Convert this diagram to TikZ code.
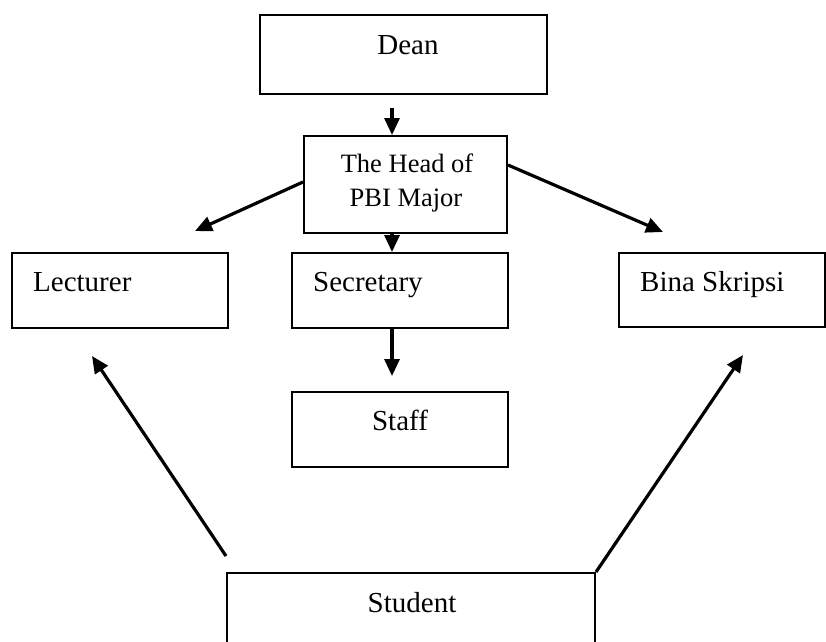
\documentclass[tikz,border=0pt]{standalone}
\usepackage{fontspec}
\setmainfont{Liberation Serif}
\usetikzlibrary{arrows.meta}
\begin{document}
\begin{tikzpicture}[x=1pt,y=-1pt,
  box/.style={draw=black,line width=2pt,rectangle,inner sep=0pt,fill=none},
  lbl/.style={inner sep=0pt,font=\fontsize{29}{34}\selectfont},
  hlbl/.style={inner sep=0pt,font=\fontsize{26.5}{31}\selectfont},
  arr/.style={draw=black,line width=3.2pt,-{Triangle[length=17pt,width=15pt]}}]
\useasboundingbox (0,0) rectangle (826,641);
\clip (0,0) rectangle (826,641);
% boxes
\node[box,minimum width=287pt,minimum height=79pt] (dean) at (403.5,54.5) {};
\node[box,minimum width=203pt,minimum height=97pt] (head) at (405.5,184.5) {};
\node[box,minimum width=216pt,minimum height=75pt] (lect) at (120,290.5) {};
\node[box,minimum width=216pt,minimum height=75pt] (sec) at (400,290.5) {};
\node[box,minimum width=206pt,minimum height=74pt] (bina) at (722,290) {};
\node[box,minimum width=216pt,minimum height=75pt] (staff) at (400,429.5) {};
\node[box,minimum width=368pt,minimum height=127pt] (stud) at (411,636.5) {};
% labels
\node[lbl,anchor=base] (tdean) at (408,54) {Dean};
\node[hlbl,anchor=base] (thead1) at (407,172) {The Head of};
\node[hlbl,anchor=base] (thead2) at (406,206) {PBI Major};
\node[lbl,anchor=base west] (tlect) at (33,291) {Lecturer};
\node[lbl,anchor=base west] (tsec) at (313,291) {Secretary};
\node[lbl,anchor=base west] (tbina) at (640,291) {Bina Skripsi};
\node[lbl,anchor=base] (tstaff) at (400,430) {Staff};
\node[lbl,anchor=base] (tstud) at (412,612) {Student};
% connectors
\draw[arr] ([xshift=-11.5pt,yshift=-13pt]dean.south) -- ([xshift=-13.5pt]head.north);
\draw[arr] ([xshift=-13.5pt]head.south) -- ([xshift=-8pt]sec.north);
\draw[arr] ([xshift=-8pt]sec.south) -- ([xshift=-8pt,yshift=15pt]staff.north);
\draw[arr] ([yshift=2.5pt]head.west) -- ([xshift=75pt,yshift=21pt]lect.north);
\draw[arr] ([yshift=19.5pt]head.east) -- ([xshift=-59pt,yshift=20pt]bina.north);
\draw[arr] ([yshift=16pt]stud.north west) -- ([xshift=-28pt,yshift=-27pt]lect.south);
\draw[arr] (stud.north east) -- ([xshift=21pt,yshift=-27pt]bina.south);
\end{tikzpicture}
\end{document}
